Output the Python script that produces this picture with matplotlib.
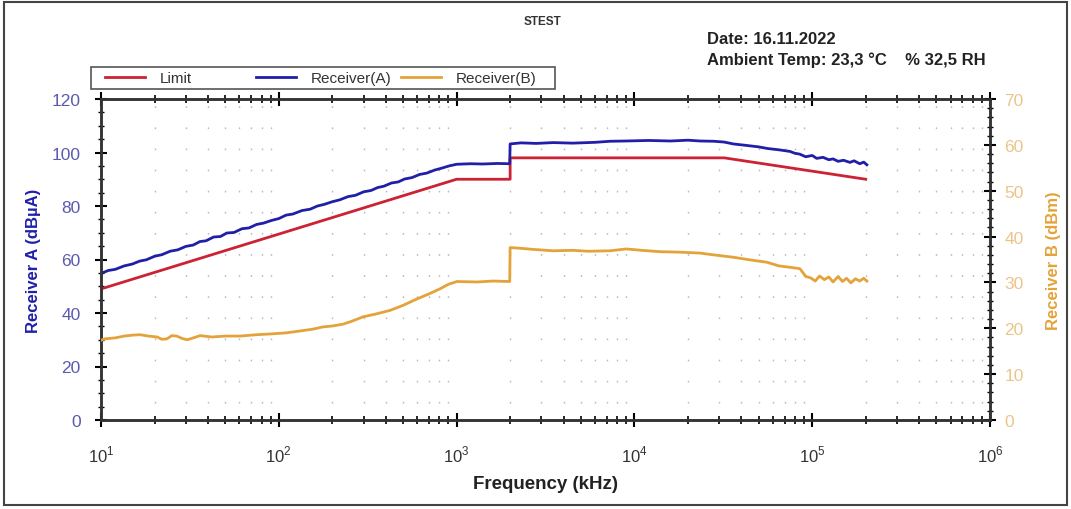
import numpy as np
import matplotlib.pyplot as plt
from matplotlib.patches import Rectangle
from matplotlib.ticker import MultipleLocator, FixedLocator, NullFormatter

plt.rcParams['font.family'] = ['Liberation Sans', 'DejaVu Sans']
plt.rcParams['mathtext.fontset'] = 'custom'
plt.rcParams['mathtext.rm'] = 'Liberation Sans'

# limit line (dBuA)
limit_f = [10, 1000, 2000, 2000, 32000, 200000]
limit_v = [49, 90, 90, 98, 98, 90]

# receiver A trace (dBuA)
rx_a_f = [10, 11, 12, 13.5, 15, 16.5, 18, 20, 22, 24.5, 27, 30, 33, 36, 39, 43, 47, 51, 56, 62,
          68, 75, 82, 91, 100, 110, 120, 135, 150, 165, 180, 200, 220, 245, 270, 300, 330, 360,
          390, 430, 470, 510, 560, 620, 680, 750, 820, 910, 1000, 1200, 1400, 1700, 1990,
          2000, 2300, 2800, 3500, 4500, 6000, 7300, 9000, 12000, 16000, 20000, 23400, 28000,
          32000, 36000, 42000, 50000, 56000, 65000, 75000, 80000, 85000, 92000, 100000, 106000,
          115000, 124000, 131000, 140000, 150000, 163000, 172000, 185000, 195000, 203000]
rx_a_v = [54.8, 55.9, 56.3, 57.6, 58.3, 59.4, 59.9, 61.2, 61.8, 63.1, 63.6, 64.9, 65.4, 66.7, 67.0,
          68.4, 68.6, 69.9, 70.1, 71.5, 71.8, 73.1, 73.6, 74.6, 75.3, 76.6, 77.0, 78.3, 78.8, 80.0,
          80.6, 81.6, 82.3, 83.5, 84.0, 85.3, 85.8, 86.9, 87.4, 88.6, 89.0, 90.1, 90.6, 91.8,
          92.3, 93.4, 94.1, 95.0, 95.6, 95.8, 95.7, 95.9, 95.8,
          103.2, 103.6, 103.4, 103.7, 103.5, 103.8, 104.2, 104.3, 104.5, 104.3, 104.6, 104.3, 104.2,
          103.9, 103.2, 102.7, 102.1, 101.5, 101.0, 100.4, 99.7, 99.4, 98.4, 98.9, 97.8,
          98.2, 97.3, 97.6, 96.7, 97.1, 96.3, 96.9, 95.8, 96.4, 95.4]

# receiver B trace (dBm)
rx_b_f = [10, 10.5, 12, 13.5, 15, 16.6, 18.5, 20.7, 22, 23.5, 25, 26.7, 28.5, 30.5, 33, 36.1, 42,
          50, 60.5, 75, 92.8, 110, 131, 155, 177, 200, 230, 260, 298, 350, 422, 500, 598, 700,
          806, 900, 1005, 1300, 1600, 1990,
          2000, 2200, 2700, 3500, 4500, 5500, 7300, 9000, 11000, 14000, 18000, 23400, 28000,
          35900, 45000, 55700, 65000, 75000, 85300, 92000, 98000, 104000, 110000, 117000,
          124000, 131000, 140000, 148000, 156000, 165000, 175000, 185000, 195000, 203000]
rx_b_v = [17.4, 17.7, 17.9, 18.3, 18.5, 18.6, 18.3, 18.1, 17.6, 17.7, 18.4, 18.3, 17.8, 17.5, 17.9,
          18.4, 18.1, 18.3, 18.3, 18.6, 18.8, 19.0, 19.4, 19.8, 20.3, 20.5, 20.9, 21.6, 22.5, 23.1,
          23.9, 25.0, 26.4, 27.5, 28.6, 29.6, 30.2, 30.1, 30.3, 30.2,
          37.6, 37.5, 37.2, 36.9, 37.0, 36.8, 36.9, 37.3, 37.0, 36.7, 36.6, 36.4, 36.0,
          35.5, 34.9, 34.4, 33.6, 33.3, 33.0, 31.3, 31.0, 30.3, 31.4, 30.6, 31.2, 30.1, 31.3,
          30.2, 30.9, 29.9, 30.8, 30.3, 30.9, 30.3]

# axes ranges and ticks
a_ticks = [0, 20, 40, 60, 80, 100, 120]
b_ticks = [0, 10, 20, 30, 40, 50, 60, 70]
x_decades = [10, 100, 1000, 10000, 100000, 1000000]
x_labels = ['$10^{1}$', '$10^{2}$', '$10^{3}$', '$10^{4}$', '$10^{5}$', '$10^{6}$']

c_limit = '#cc2233'
c_a = '#1f1fa8'
c_b = '#e3a33a'
c_a_tick = '#5a5ab0'
c_b_tick = '#ecc48a'

W, H = 1071, 510
fig = plt.figure(figsize=(W / 100, H / 100), dpi=100)
fig.patches.append(Rectangle((0.004, 0.008), 0.992, 0.986, transform=fig.transFigure,
                             fill=False, edgecolor='#444444', linewidth=1.5))

ax = fig.add_axes([101 / W, 1 - 421 / H, 889 / W, 321 / H])
ax2 = ax.twinx()

ax.set_xscale('log')
ax.set_xlim(10, 1e6)
ax.set_ylim(0, 120)
ax2.set_ylim(0, 70)

# dotted grid at the minor decade positions
minor_x = [m * d for d in x_decades[:-1] for m in range(2, 10)]
for xv in minor_x:
    ax.axvline(xv, color='#b8b8b8', lw=1.0, linestyle=(3, (1.2, 14)), zorder=0)

l1, = ax.plot(limit_f, limit_v, color=c_limit, lw=2.0, label='Limit', zorder=3)
l2, = ax.plot(rx_a_f, rx_a_v, color=c_a, lw=2.0, label='Receiver(A)', zorder=3)
l3, = ax2.plot(rx_b_f, rx_b_v, color=c_b, lw=2.0, label='Receiver(B)', zorder=3)

ax.xaxis.set_major_locator(FixedLocator(x_decades))
ax.set_xticklabels(x_labels)
ax.xaxis.set_minor_locator(FixedLocator(minor_x))
ax.xaxis.set_minor_formatter(NullFormatter())
ax.set_yticks(a_ticks)
ax.yaxis.set_minor_locator(MultipleLocator(5))
ax2.set_yticks(b_ticks)
ax2.yaxis.set_minor_locator(MultipleLocator(2))

ax.tick_params(axis='x', which='major', direction='inout', length=10, width=1.5,
               labelsize=12, colors='black', labelcolor='#333333', pad=12)
ax.tick_params(axis='x', which='minor', direction='inout', length=6, width=1.2)
ax.tick_params(axis='x', top=True, which='both')
ax.tick_params(axis='y', which='major', direction='inout', length=9, width=1.5,
               labelsize=12.5, labelcolor=c_a_tick, pad=10)
ax.tick_params(axis='y', which='minor', direction='inout', length=5, width=1.0)
ax2.tick_params(axis='y', which='major', direction='inout', length=9, width=1.5,
                labelsize=12.5, labelcolor=c_b_tick, pad=6)
ax2.tick_params(axis='y', which='minor', direction='inout', length=5, width=1.0)

for a in (ax, ax2):
    for s in a.spines.values():
        s.set_linewidth(1.8)
        s.set_color('#333333')

ax.set_xlabel('Frequency (kHz)', fontsize=13.5, fontweight='bold', color='#222222', labelpad=8)
ax.set_ylabel('Receiver A (dBµA)', fontsize=12, fontweight='bold', color=c_a, labelpad=8)
ax2.set_ylabel('Receiver B (dBm)', fontsize=12, fontweight='bold', color=c_b, labelpad=16)

fig.text(543 / W, 1 - 22 / H, 'STEST', ha='center', va='center', fontsize=8.5,
         fontweight='bold', color='#333333')
fig.text(707 / W, 1 - 40 / H, 'Date: 16.11.2022', ha='left', va='center',
         fontsize=12, fontweight='bold', color='#222222')
fig.text(707 / W, 1 - 60 / H, 'Ambient Temp: 23,3 °C    % 32,5 RH', ha='left',
         va='center', fontsize=12, fontweight='bold', color='#222222')

# legend: one boxed strip holding the three entries
fig.patches.append(Rectangle((91 / W, 1 - 90 / H), 464 / W, 22 / H, transform=fig.transFigure,
                             facecolor='white', edgecolor='#555555', linewidth=1.2, zorder=5))
for line, x0 in ((l1, 105), (l2, 256), (l3, 401)):
    leg = fig.legend(handles=[line], loc='center left', bbox_to_anchor=(x0 / W, 1 - 79 / H),
                     fontsize=11, frameon=False, handlelength=2.6, handletextpad=1.0,
                     borderpad=0, borderaxespad=0)
    leg.set_zorder(6)
    for t in leg.get_texts():
        t.set_color('#333333')

fig.savefig('out.png', dpi=100)
